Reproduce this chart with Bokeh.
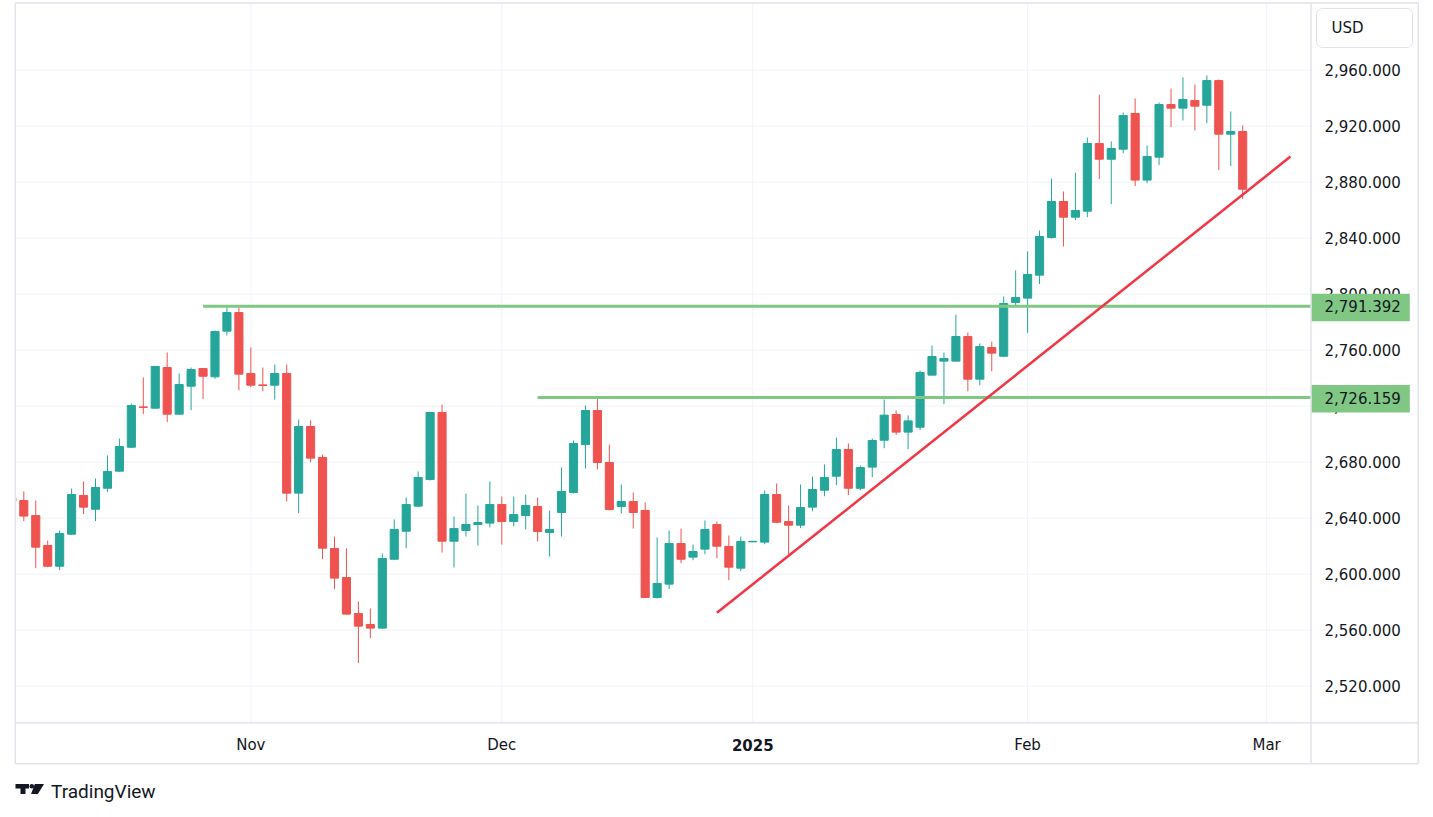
import pandas as pd
from bokeh.plotting import figure
from bokeh.models import ColumnDataSource, Range1d, Label
from bokeh.core.properties import value
from bokeh.embed import file_html
from bokeh.resources import INLINE

# XAU/USD daily candles (Oct 4 2024 - Feb 27 2025)
# trading calendar: weekdays, no bar on Dec 25
calendar = [d.strftime("%Y-%m-%d") for d in pd.bdate_range("2024-10-04", "2025-03-07")
            if d.strftime("%Y-%m-%d") != "2024-12-25"]
dates = calendar[:104]

opens = [2654.6, 2652.6, 2641.9, 2620.5, 2605.7, 2628.6, 2656.2, 2646.4, 2661.4, 2673.6,
         2690.7, 2719.5, 2718.6, 2747.6, 2714.3, 2734.3, 2746.9, 2741.0, 2773.6, 2786.9,
         2743.4, 2735.2, 2735.0, 2743.4, 2657.9, 2705.5, 2683.4, 2618.4, 2597.6, 2571.9,
         2564.1, 2561.5, 2610.7, 2630.7, 2648.6, 2667.6, 2715.5, 2623.6, 2631.2, 2635.5,
         2636.5, 2649.8, 2637.6, 2641.9, 2648.4, 2629.8, 2644.1, 2658.4, 2692.6, 2716.9,
         2679.8, 2648.4, 2651.9, 2645.5, 2583.4, 2592.9, 2621.9, 2612.2, 2617.9, 2635.5,
         2619.8, 2604.3, 2623.1, 2622.9, 2656.9, 2637.6, 2635.0, 2647.9, 2660.0, 2670.0,
         2689.1, 2661.4, 2676.5, 2695.7, 2714.1, 2701.5, 2705.0, 2742.2, 2752.2, 2752.2,
         2769.8, 2739.3, 2761.9, 2755.7, 2794.1, 2797.2, 2813.6, 2840.5, 2866.2, 2855.0,
         2859.3, 2907.6, 2896.4, 2903.6, 2929.1, 2881.5, 2897.9, 2935.5, 2932.9, 2938.4,
         2935.0, 2952.6, 2914.3, 2916.2]
highs = [2656.0, 2659.1, 2652.6, 2624.1, 2631.2, 2661.2, 2666.2, 2668.4, 2684.8, 2696.9,
         2721.9, 2740.5, 2748.8, 2758.4, 2743.4, 2747.6, 2747.3, 2774.0, 2790.7, 2791.4,
         2761.9, 2747.6, 2749.8, 2749.8, 2710.5, 2709.8, 2685.5, 2626.9, 2618.4, 2580.5,
         2575.5, 2614.8, 2639.1, 2654.8, 2673.4, 2716.0, 2721.2, 2641.2, 2657.6, 2649.1,
         2666.2, 2655.5, 2655.5, 2656.9, 2654.8, 2645.5, 2676.2, 2695.5, 2720.5, 2726.2,
         2692.6, 2664.1, 2658.4, 2651.2, 2626.2, 2631.2, 2632.6, 2621.2, 2638.4, 2637.6,
         2627.6, 2626.9, 2623.6, 2659.8, 2664.8, 2649.1, 2664.1, 2669.8, 2678.4, 2697.6,
         2693.4, 2677.6, 2696.9, 2724.8, 2716.9, 2713.4, 2745.5, 2763.4, 2758.4, 2785.5,
         2772.6, 2764.8, 2766.2, 2798.4, 2817.0, 2830.5, 2845.5, 2882.6, 2873.4, 2886.9,
         2911.9, 2942.6, 2909.1, 2929.8, 2939.8, 2906.2, 2936.9, 2946.9, 2954.8, 2949.8,
         2956.2, 2953.4, 2930.5, 2920.5]
lows = [2650.0, 2637.9, 2604.3, 2605.0, 2602.9, 2627.9, 2642.9, 2637.9, 2658.6, 2672.9,
        2690.0, 2714.3, 2718.3, 2708.6, 2714.0, 2717.1, 2725.0, 2739.5, 2770.5, 2731.4,
        2733.6, 2730.7, 2724.8, 2651.9, 2643.6, 2680.0, 2610.7, 2589.3, 2571.0, 2536.5,
        2554.3, 2561.0, 2610.0, 2618.6, 2648.0, 2667.0, 2615.5, 2604.8, 2626.9, 2620.5,
        2633.4, 2621.2, 2634.1, 2631.9, 2623.4, 2612.6, 2626.9, 2657.6, 2675.5, 2674.8,
        2645.5, 2643.4, 2632.6, 2583.0, 2582.6, 2589.3, 2607.9, 2610.0, 2614.3, 2611.4,
        2595.7, 2602.1, 2622.8, 2621.4, 2636.4, 2614.1, 2632.9, 2645.0, 2655.7, 2663.6,
        2656.4, 2660.0, 2669.3, 2690.0, 2699.5, 2689.3, 2702.9, 2742.0, 2721.4, 2752.0,
        2730.7, 2735.0, 2745.0, 2755.0, 2791.2, 2772.2, 2807.2, 2839.8, 2834.1, 2852.9,
        2855.0, 2882.2, 2864.3, 2900.7, 2877.2, 2879.3, 2892.2, 2919.3, 2924.1, 2916.9,
        2922.2, 2888.6, 2891.5, 2867.9]
closes = [2652.0, 2641.5, 2619.3, 2605.7, 2629.1, 2656.9, 2647.9, 2661.9, 2673.4, 2691.2,
          2720.5, 2719.1, 2748.4, 2714.3, 2735.5, 2746.2, 2741.4, 2773.4, 2786.9, 2742.9,
          2735.0, 2734.8, 2743.4, 2657.9, 2705.5, 2682.9, 2618.6, 2597.2, 2571.5, 2562.9,
          2561.5, 2611.2, 2631.9, 2649.8, 2669.1, 2715.5, 2623.6, 2632.6, 2635.5, 2636.9,
          2649.8, 2637.6, 2642.6, 2649.1, 2630.5, 2631.9, 2659.1, 2693.4, 2716.9, 2679.8,
          2646.2, 2651.9, 2644.1, 2583.4, 2593.4, 2621.9, 2610.7, 2616.2, 2631.9, 2620.0,
          2605.0, 2623.4, 2623.5, 2656.9, 2637.1, 2635.0, 2647.6, 2660.5, 2669.1, 2689.1,
          2661.4, 2676.2, 2695.5, 2713.6, 2701.5, 2709.5, 2744.1, 2755.5, 2754.1, 2769.8,
          2739.3, 2762.6, 2757.9, 2793.4, 2797.6, 2814.1, 2841.2, 2866.2, 2855.0, 2859.8,
          2907.6, 2896.4, 2904.1, 2927.6, 2881.5, 2898.4, 2935.5, 2932.9, 2939.1, 2934.3,
          2952.6, 2914.3, 2916.2, 2875.0]

# drawings on the chart
levels = [2791.392, 2726.159]
level_dates = ["2024-10-28", "2024-12-05"]
trend_dates = ["2024-12-27", "2025-03-05"]
trend_values = [2572.4, 2898.3]

month_dates = ["2024-11-01", "2024-12-02", "2025-01-01", "2025-02-03", "2025-03-03"]
month_labels = ["Nov", "Dec", "2025", "Feb", "Mar"]
month_bold = [False, False, True, False, False]
price_ticks = [2520, 2560, 2600, 2640, 2680, 2720, 2760, 2800, 2840, 2880, 2920, 2960]

UP, DOWN = "#26a69a", "#ef5350"
TEXT, BORDER, GRID = "#131722", "#e0e3eb", "#f0f3fa"
FONT = value("DejaVu Sans")

# The whole canvas is one frame (annotations are clipped to the frame), so the
# price scale, time scale and logo are laid out inside it.  Helpers turn page
# pixels into data units for that chrome.
W, H = 1433, 817
BAR0_PX, BAR_PX = 11.35, 11.95          # page x of first bar, bar spacing
P0_PX, P0, PX_PER_USD = 685.7, 2520, 1.4


def xv(px):
    return (px - BAR0_PX) / BAR_PX


def yv(py):
    return P0 + (P0_PX - py) / PX_PER_USD


PLOT_L, PLOT_R, PLOT_T, PLOT_B = 14.8, 1310.5, 2.5, 722.2
OUTER_R, OUTER_B = 1417.8, 763.2

pos = {d: i for i, d in enumerate(calendar)}
xs = [pos[d] for d in dates]
source = ColumnDataSource(dict(
    x=xs, open=opens, high=highs, low=lows, close=closes,
    top=[max(o, c) for o, c in zip(opens, closes)],
    bottom=[min(o, c) for o, c in zip(opens, closes)],
    color=[UP if c >= o else DOWN for o, c in zip(opens, closes)],
))

p = figure(
    width=W, height=H,
    x_range=Range1d(xv(0), xv(W)), y_range=Range1d(yv(H), yv(0)),
    x_axis_type=None, y_axis_type=None,
    toolbar_location=None, tools="", output_backend="svg",
    min_border=0,
)
p.background_fill_color = "white"
p.border_fill_color = "white"
p.outline_line_color = None
p.xgrid.visible = False
p.ygrid.visible = False

# grid
month_pos = [pos[d] for d in month_dates]
p.segment(x0=xv(PLOT_L), x1=xv(PLOT_R), y0=price_ticks, y1=price_ticks,
          line_color=GRID, line_width=1)
p.segment(x0=month_pos, x1=month_pos, y0=yv(PLOT_B), y1=yv(PLOT_T),
          line_color=GRID, line_width=1)

# candles
p.segment(x0="x", y0="high", x1="x", y1="low", line_color="color", line_width=1, source=source)
p.vbar(x="x", width=0.68, top="top", bottom="bottom", fill_color="color",
       line_color="color", line_width=1, source=source)

# horizontal levels and trend line
p.segment(x0=[pos[d] for d in level_dates], y0=levels,
          x1=[xv(PLOT_R)] * len(levels), y1=levels,
          line_color="#81c784", line_width=3)
p.line(x=[pos[d] for d in trend_dates], y=trend_values, line_color="#f23645", line_width=2.5)

# white margins hide whatever runs outside the plot pane
p.quad(left=xv(0), right=xv(PLOT_L), bottom=yv(H), top=yv(0),
       fill_color="white", line_color=None)
p.quad(left=xv(PLOT_R), right=xv(W), bottom=yv(H), top=yv(0),
       fill_color="white", line_color=None)

# price scale
p.text(x=xv(1324), y=price_ticks, text=[f"{t:,.3f}" for t in price_ticks],
       text_font=FONT, text_font_size="15px", text_color=TEXT,
       text_align="left", text_baseline="middle")
p.quad(left=xv(1310.7), right=xv(1409.3),
       bottom=[lv - 15 / PX_PER_USD for lv in levels],
       top=[lv + 12.5 / PX_PER_USD for lv in levels],
       fill_color="#81c784", line_color=None)
p.text(x=xv(1324), y=levels, text=[f"{lv:,.3f}" for lv in levels],
       text_font=FONT, text_font_size="15px", text_color=TEXT,
       text_align="left", text_baseline="middle")
p.add_layout(Label(x=xv(1316), y=yv(27.5), text="USD",
                   text_font="DejaVu Sans", text_font_size="15px", text_color=TEXT,
                   text_baseline="middle", text_align="left",
                   background_fill_color="white", border_line_color=BORDER,
                   border_radius=6, padding=dict(left=15, right=49, top=10, bottom=11)))

# time scale
for lab, xp, bold in zip(month_labels, month_pos, month_bold):
    p.text(x=[xp], y=[yv(744)], text=[lab], text_font=FONT, text_font_size="15px",
           text_font_style="bold" if bold else "normal", text_color=TEXT,
           text_align="center", text_baseline="middle")

# pane borders and separators
p.segment(x0=[xv(PLOT_L), xv(PLOT_L), xv(OUTER_R), xv(PLOT_L), xv(PLOT_R), xv(PLOT_L)],
          x1=[xv(OUTER_R), xv(PLOT_L), xv(OUTER_R), xv(OUTER_R), xv(PLOT_R), xv(OUTER_R)],
          y0=[yv(PLOT_T), yv(PLOT_T), yv(PLOT_T), yv(OUTER_B), yv(PLOT_T), yv(PLOT_B)],
          y1=[yv(PLOT_T), yv(OUTER_B), yv(OUTER_B), yv(OUTER_B), yv(OUTER_B), yv(PLOT_B)],
          line_color=BORDER, line_width=1.5)

# TradingView logo
p.quad(left=[xv(15), xv(20)], right=[xv(28.5), xv(25)],
       top=[yv(783.5), yv(783.5)], bottom=[yv(788), yv(793.5)],
       fill_color=TEXT, line_color=None)
p.scatter(x=[xv(31.3)], y=[yv(785.8)], size=4.6, marker="circle",
          fill_color=TEXT, line_color=None)
p.patch(x=[xv(34.3), xv(43.6), xv(37.3), xv(30.6)],
        y=[yv(783.5), yv(783.5), yv(793.5), yv(793.5)],
        fill_color=TEXT, line_color=None)
p.text(x=[xv(50.5)], y=[yv(790.5)], text=["TradingView"], text_font=value("Roboto"),
       text_font_size="19px", text_color=TEXT, text_align="left",
       text_baseline="middle")

open("out.html", "w").write(file_html(p, INLINE))
